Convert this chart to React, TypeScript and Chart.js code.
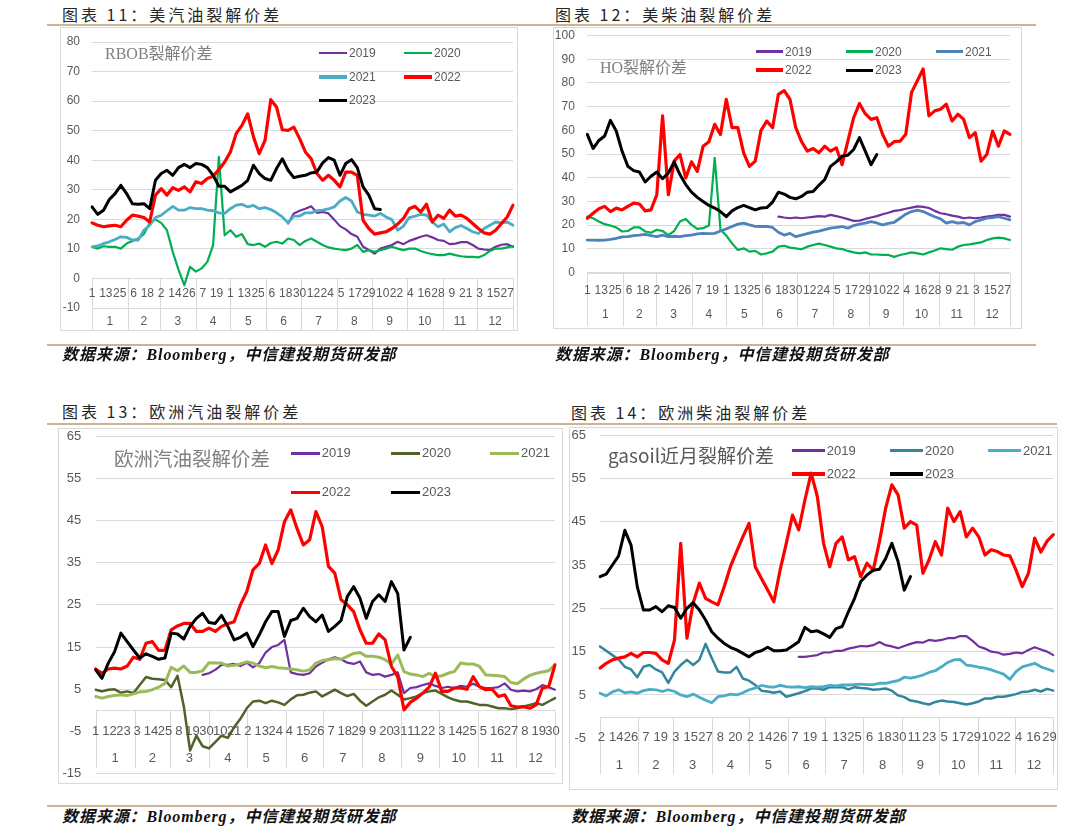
import React, { useEffect, useRef } from "react";
import { Chart, registerables } from "chart.js";

Chart.register(...registerables);

// ---- calendar / category helpers -------------------------------------------
const MONTH_LABELS = ["1", "2", "3", "4", "5", "6", "7", "8", "9", "10", "11", "12"];
const MONTH_LENGTHS = [31, 28, 31, 30, 31, 30, 31, 31, 30, 31, 30, 31];
const STEP = 5; // one sample every 5 calendar days
const GRID_DAYS = Array.from({ length: 74 }, (_, i) => i * STEP);
const YEARS = ["2019", "2020", "2021", "2022", "2023"];

const US_DAY_TICKS = ["1", "13", "25", "6", "18", "2", "14", "26", "7", "19", "1", "13", "25", "6", "18", "30", "12", "24", "5", "17", "29", "10", "22", "4", "16", "28", "9", "21", "3", "15", "27"];
const EBOB_DAY_TICKS = ["1", "12", "23", "3", "14", "25", "8", "19", "30", "10", "21", "2", "13", "24", "4", "15", "26", "7", "18", "29", "9", "20", "31", "11", "22", "3", "14", "25", "5", "16", "27", "8", "19", "30"];
const GASOIL_DAY_TICKS = ["2", "14", "26", "7", "19", "3", "15", "27", "8", "20", "2", "14", "26", "7", "19", "1", "13", "25", "6", "18", "30", "11", "23", "5", "17", "29", "10", "22", "4", "16", "29"];

// ---- 美汽油 RBOB 裂解价差 --------------------------------------------------------
const rbob2019From = 170;
const rbob2019 = [18.6, 22.0, 22.9, 23.6, 24.4, 22.2, 22.5, 22.0, 19.9, 17.7, 16.6, 15.0, 14.1, 10.7, 9.6, 8.4, 10.1, 10.7, 11.3, 12.4, 11.6, 12.7, 13.4, 14.1, 14.6, 13.9, 13.0, 12.7, 11.6, 11.8, 12.3, 12.3, 11.3, 10.1, 9.8, 9.6, 10.7, 11.4, 11.6, 10.7];
const rbob2020 = [10.7, 10.1, 10.9, 10.7, 10.7, 10.1, 11.8, 12.7, 13.5, 15.0, 18.8, 19.9, 18.8, 16.3, 9.0, 3.0, -2.3, 3.9, 2.3, 3.4, 5.6, 11.3, 41.1, 14.6, 16.3, 14.1, 15.0, 11.6, 11.3, 11.8, 10.7, 12.0, 12.4, 11.8, 13.5, 13.0, 11.3, 12.7, 13.5, 12.4, 11.3, 10.5, 10.1, 9.8, 9.6, 10.1, 11.3, 9.0, 9.6, 9.0, 9.6, 10.1, 10.7, 10.1, 9.6, 10.1, 10.1, 9.3, 8.7, 8.2, 7.9, 7.9, 8.4, 7.9, 7.5, 7.3, 7.3, 7.1, 7.9, 9.3, 10.1, 10.1, 10.5, 10.9];
const rbob2021 = [10.7, 11.0, 11.8, 12.4, 13.2, 14.1, 13.9, 13.0, 13.0, 16.3, 18.0, 20.6, 21.4, 22.9, 24.4, 23.1, 23.1, 24.0, 23.6, 23.6, 23.1, 22.9, 22.2, 22.0, 23.6, 24.8, 25.1, 24.2, 24.7, 23.6, 24.0, 23.3, 22.2, 20.8, 18.8, 21.1, 21.1, 22.2, 22.2, 22.9, 23.1, 23.5, 24.2, 26.2, 27.4, 26.2, 22.5, 21.7, 21.4, 21.1, 22.0, 20.8, 19.9, 16.3, 17.7, 20.6, 21.1, 21.7, 21.4, 19.1, 17.5, 18.4, 15.8, 17.2, 17.9, 16.9, 15.8, 15.2, 16.9, 18.0, 19.1, 18.8, 19.1, 18.0];
const rbob2022 = [18.8, 18.0, 17.5, 17.8, 18.0, 17.5, 19.7, 21.4, 21.1, 20.6, 19.1, 28.2, 30.4, 28.2, 30.7, 29.8, 31.0, 29.3, 32.7, 32.1, 33.8, 34.6, 36.8, 39.4, 42.8, 49.0, 51.8, 55.7, 47.9, 42.2, 46.7, 60.5, 58.0, 50.3, 50.1, 51.2, 47.3, 42.8, 40.5, 35.5, 33.2, 34.9, 33.2, 31.0, 36.0, 36.0, 34.9, 19.7, 16.9, 15.0, 15.4, 15.8, 16.9, 18.4, 20.3, 23.6, 24.4, 22.5, 25.1, 19.1, 21.4, 20.3, 23.1, 21.1, 21.4, 20.3, 18.6, 16.9, 15.4, 15.0, 16.3, 18.6, 20.8, 24.8];
const rbob2023 = [24.2, 21.7, 23.1, 26.7, 28.7, 31.5, 28.7, 25.3, 25.1, 25.3, 23.6, 33.2, 35.5, 36.6, 34.9, 37.5, 38.6, 37.5, 38.9, 38.6, 37.5, 34.9, 31.2, 31.2, 29.3, 30.4, 31.5, 33.2, 38.3, 35.5, 33.8, 33.2, 37.2, 40.5, 36.6, 34.1, 34.6, 34.9, 35.7, 36.0, 39.1, 40.9, 40.0, 34.9, 38.9, 40.2, 37.5, 31.0, 28.2, 23.6, 23.3];

// ---- 美柴油 HO 裂解价差 ----------------------------------------------------------
const ho2019From = 165;
const ho2019 = [23.6, 23.2, 22.9, 23.2, 22.9, 23.2, 23.5, 23.8, 23.6, 24.3, 23.8, 23.2, 22.5, 21.8, 21.9, 22.6, 23.2, 23.8, 24.6, 25.2, 26.0, 26.3, 26.9, 27.4, 27.9, 27.7, 27.2, 26.0, 25.0, 24.6, 24.0, 23.6, 22.9, 23.2, 22.9, 23.2, 23.6, 23.9, 24.3, 24.3, 23.6];
const ho2020 = [23.6, 22.9, 21.5, 20.4, 19.8, 19.0, 17.3, 17.5, 19.0, 19.0, 17.3, 16.8, 18.0, 17.5, 15.8, 17.5, 21.5, 22.6, 20.1, 18.4, 18.7, 19.8, 48.4, 18.0, 15.6, 12.3, 9.5, 10.2, 8.8, 9.1, 7.6, 8.1, 8.8, 10.9, 11.3, 10.5, 10.2, 9.8, 10.9, 11.6, 12.2, 11.6, 10.9, 10.2, 9.9, 9.1, 8.5, 8.1, 8.5, 7.6, 7.6, 7.4, 7.4, 6.6, 7.4, 7.9, 8.5, 8.1, 7.6, 8.5, 9.3, 10.2, 9.9, 9.6, 10.9, 11.6, 11.9, 12.3, 12.7, 13.7, 14.4, 14.7, 14.4, 13.7];
const ho2021 = [13.7, 13.7, 13.6, 13.7, 14.0, 14.4, 15.0, 15.1, 15.6, 15.8, 16.1, 15.6, 15.1, 15.8, 15.1, 15.3, 15.1, 15.6, 15.8, 16.3, 16.5, 16.4, 16.5, 17.5, 18.4, 19.4, 20.4, 20.8, 20.1, 19.5, 19.4, 19.5, 19.0, 17.0, 15.8, 16.5, 15.1, 15.8, 16.4, 17.0, 17.5, 18.1, 18.7, 19.0, 19.4, 18.7, 19.8, 20.4, 20.8, 21.5, 20.9, 20.1, 20.7, 21.2, 22.9, 24.6, 25.7, 26.3, 25.7, 24.6, 23.5, 22.6, 20.8, 21.5, 20.8, 21.1, 20.1, 21.5, 22.2, 22.9, 23.2, 23.6, 22.9, 22.2];
const ho2022 = [22.9, 25.0, 26.9, 27.9, 25.7, 27.2, 26.4, 27.9, 29.3, 28.9, 26.0, 26.4, 32.8, 66.1, 32.8, 47.0, 49.8, 39.9, 46.7, 42.7, 53.3, 55.2, 62.5, 58.3, 73.1, 61.1, 61.1, 50.5, 44.8, 47.0, 60.0, 63.9, 61.1, 75.2, 76.7, 73.1, 61.1, 55.2, 51.2, 52.3, 50.5, 53.3, 51.2, 52.6, 45.5, 55.4, 65.3, 71.3, 67.0, 64.6, 65.3, 58.3, 53.3, 55.2, 55.4, 58.3, 76.0, 80.9, 85.9, 66.1, 68.2, 68.9, 71.0, 63.9, 66.8, 64.6, 56.9, 59.0, 47.0, 49.8, 59.7, 53.3, 59.7, 58.3];
const ho2023 = [58.3, 52.3, 55.7, 57.6, 64.2, 59.7, 51.2, 44.8, 43.0, 42.4, 38.2, 40.6, 42.4, 39.6, 42.0, 46.7, 41.3, 37.1, 33.9, 31.7, 30.0, 28.3, 27.2, 25.7, 23.6, 26.0, 27.4, 28.3, 27.4, 26.4, 27.2, 27.4, 29.7, 33.9, 33.1, 31.7, 31.1, 32.1, 33.9, 34.2, 36.8, 39.2, 44.8, 46.7, 49.1, 49.5, 51.9, 56.9, 51.2, 45.5, 49.8];

// ---- 欧洲汽油裂解价差 ------------------------------------------------------------
const ebob2019From = 85;
const ebob2019 = [8.4, 8.8, 9.6, 10.8, 10.8, 11.0, 10.5, 11.3, 10.2, 11.2, 13.7, 15.0, 15.5, 16.7, 9.0, 8.6, 8.4, 8.8, 10.4, 11.3, 12.1, 12.6, 12.1, 11.3, 11.0, 11.6, 9.0, 8.4, 8.6, 8.0, 8.4, 9.0, 4.1, 5.3, 5.5, 6.0, 6.4, 5.8, 5.3, 5.6, 5.3, 5.8, 5.6, 6.3, 5.6, 5.3, 5.3, 5.5, 6.4, 4.9, 4.5, 4.7, 4.5, 5.0, 6.0, 5.5, 4.9];
const ebob2020 = [4.9, 4.5, 4.9, 5.0, 4.2, 4.5, 4.1, 6.0, 7.9, 7.5, 7.4, 7.2, 5.5, 8.2, 1.0, -9.5, -6.0, -8.5, -9.0, -7.5, -6.0, -6.5, -4.0, -2.0, 0.5, 2.1, 2.3, 1.7, 2.3, 1.9, 1.3, 2.6, 3.6, 3.7, 4.2, 4.5, 3.3, 4.1, 4.9, 4.1, 3.4, 3.9, 2.3, 1.1, 2.1, 3.1, 3.7, 4.7, 3.7, 2.6, 2.9, 3.3, 4.1, 4.5, 4.7, 3.9, 3.1, 2.5, 2.1, 2.1, 1.7, 1.3, 1.3, 0.9, 0.5, 0.5, 0.3, 0.5, 0.9, 1.3, 1.7, 1.3, 2.1, 2.9];
const ebob2021 = [3.3, 2.9, 3.3, 3.5, 3.7, 3.5, 3.9, 4.4, 4.5, 4.9, 5.5, 6.4, 10.2, 9.4, 10.5, 9.0, 9.0, 9.4, 11.3, 11.2, 11.2, 10.5, 10.7, 11.0, 11.5, 11.2, 10.5, 10.1, 10.4, 10.1, 10.0, 9.8, 9.6, 9.3, 9.6, 11.2, 11.8, 12.0, 12.3, 12.1, 12.8, 13.5, 13.7, 12.8, 12.8, 12.6, 12.0, 11.0, 13.1, 9.2, 8.6, 8.4, 8.0, 8.8, 7.9, 8.2, 8.8, 9.2, 11.2, 11.0, 11.0, 10.4, 8.4, 8.3, 8.2, 8.0, 6.6, 6.3, 7.4, 8.3, 8.8, 9.1, 9.4, 10.8];
const ebob2022 = [9.8, 8.8, 9.8, 10.0, 9.8, 10.5, 12.6, 12.1, 15.9, 16.3, 14.2, 14.2, 19.1, 20.0, 20.6, 20.6, 18.7, 18.7, 19.5, 18.7, 19.9, 20.5, 21.0, 25.0, 28.1, 33.3, 34.8, 39.2, 34.8, 38.0, 44.7, 47.5, 43.1, 39.2, 40.4, 47.1, 43.5, 34.1, 32.5, 26.2, 25.0, 23.4, 19.1, 15.9, 15.9, 18.1, 16.7, 10.4, 8.0, 0.1, 1.9, 2.9, 4.1, 5.5, 8.8, 4.5, 4.5, 5.3, 5.3, 5.0, 8.0, 5.6, 4.9, 5.0, 3.3, 3.7, 1.1, 0.8, 0.9, 0.5, 1.3, 5.3, 5.6, 10.8];
const ebob2023 = [9.6, 7.6, 11.2, 13.9, 18.3, 16.3, 14.3, 12.4, 13.4, 12.8, 12.1, 12.4, 18.3, 18.1, 16.9, 19.9, 21.8, 23.0, 20.8, 20.6, 22.5, 19.9, 16.7, 17.3, 18.3, 15.1, 17.9, 21.0, 23.4, 23.4, 17.5, 21.3, 21.8, 24.2, 22.2, 21.0, 22.6, 18.7, 19.9, 21.3, 27.0, 29.3, 26.6, 21.8, 25.8, 27.4, 25.8, 30.5, 27.7, 14.3, 17.3];

// ---- 欧洲柴油 gasoil 近月裂解价差 --------------------------------------------------
const gasoil2019From = 160;
const gasoil2019 = [13.8, 13.8, 14.0, 14.2, 14.8, 14.8, 15.2, 15.2, 15.7, 16.0, 16.3, 16.2, 16.5, 17.2, 16.5, 16.2, 15.8, 16.3, 16.8, 17.2, 17.1, 17.7, 17.5, 17.7, 18.1, 18.1, 18.6, 18.6, 17.5, 16.2, 15.7, 15.0, 14.8, 14.3, 14.5, 14.8, 14.6, 15.4, 16.0, 15.5, 15.0, 14.2];
const gasoil2020 = [16.2, 15.2, 14.2, 13.2, 11.5, 10.9, 9.1, 11.5, 11.9, 10.9, 10.2, 7.8, 10.4, 11.9, 13.1, 11.9, 13.1, 16.8, 13.5, 10.4, 10.2, 10.2, 11.5, 8.8, 8.3, 7.3, 6.0, 5.8, 5.5, 5.8, 4.6, 5.0, 5.4, 5.9, 6.5, 6.5, 6.2, 6.8, 6.8, 6.8, 6.3, 6.8, 6.6, 6.5, 6.2, 6.3, 6.5, 6.0, 4.9, 4.5, 3.7, 3.5, 3.1, 2.8, 3.4, 3.7, 3.5, 3.4, 3.1, 2.8, 3.1, 3.5, 4.2, 4.2, 4.6, 4.6, 4.9, 5.2, 5.7, 5.8, 6.2, 5.8, 6.4, 6.0];
const gasoil2021 = [5.4, 4.8, 5.7, 6.2, 5.5, 5.7, 5.4, 6.0, 6.3, 6.2, 5.8, 6.2, 5.8, 5.0, 4.6, 5.2, 4.5, 3.8, 3.2, 4.6, 4.8, 5.2, 5.0, 5.5, 6.2, 6.6, 7.2, 6.9, 6.8, 7.2, 6.9, 6.8, 6.9, 6.7, 6.9, 6.8, 6.9, 7.2, 7.1, 7.3, 7.3, 7.4, 7.5, 7.4, 7.4, 7.7, 7.7, 8.0, 8.3, 9.1, 8.9, 9.2, 9.6, 10.2, 10.6, 11.5, 12.5, 13.1, 13.2, 11.9, 11.7, 11.4, 11.2, 10.8, 10.3, 9.8, 8.6, 10.4, 11.5, 11.9, 12.3, 11.5, 11.0, 10.5];
const gasoil2022 = [11.2, 12.3, 13.1, 13.5, 13.8, 14.6, 13.8, 14.8, 14.8, 14.6, 13.1, 12.3, 17.7, 40.0, 18.1, 26.2, 30.8, 27.3, 26.5, 25.8, 30.0, 34.6, 38.1, 41.5, 44.6, 34.6, 31.9, 29.2, 26.5, 33.8, 40.0, 46.5, 43.1, 50.0, 56.2, 50.8, 40.0, 34.6, 40.0, 41.5, 36.2, 36.9, 32.3, 35.4, 33.8, 40.4, 48.1, 53.5, 51.2, 43.5, 45.0, 44.2, 33.1, 36.2, 40.4, 37.3, 48.1, 45.0, 47.3, 41.5, 43.5, 41.5, 37.3, 38.5, 38.1, 37.3, 37.1, 33.8, 30.0, 33.1, 41.2, 38.0, 40.5, 42.0];
const gasoil2023 = [32.3, 32.9, 35.0, 37.1, 43.0, 39.6, 30.0, 24.6, 24.6, 25.4, 24.2, 25.6, 25.2, 22.7, 25.0, 26.3, 24.6, 22.3, 19.6, 18.1, 16.9, 16.0, 15.4, 14.6, 13.8, 14.8, 15.2, 16.0, 15.2, 15.2, 15.4, 16.3, 17.3, 20.6, 19.6, 19.8, 19.1, 18.3, 20.3, 20.8, 24.2, 27.3, 31.2, 32.7, 33.8, 34.0, 36.5, 40.0, 35.8, 29.2, 32.3];

// ---- styling ---------------------------------------------------------------
const GRID_COLOR = "#D9D9D9";
const TEXT_COLOR = "#595959";
const RULE_COLOR = "#C9B691";
const AXIS_FONT = "'Liberation Sans', Arial, sans-serif";
const CJK_FONT = "'Noto Sans CJK SC', 'Noto Sans', sans-serif";
const SOURCE_TEXT = "数据来源：Bloomberg，中信建投期货研发部";

const MONTH_STARTS = MONTH_LENGTHS.reduce<number[]>((acc, n) => {
  acc.push(acc[acc.length - 1] + n);
  return acc;
}, [0]);

// day-of-year for each tick label: a smaller number than the previous one starts a new month
function tickDays(labels: string[]): number[] {
  let month = 0;
  let prev = 0;
  return labels.map((t) => {
    const n = Number(t);
    if (n < prev) month += 1;
    prev = n;
    return MONTH_STARTS[month] + n - 1;
  });
}

function onGrid(values: number[], fromDay = 0): (number | null)[] {
  const out: (number | null)[] = GRID_DAYS.map(() => null);
  const start = fromDay / STEP;
  values.forEach((v, i) => {
    out[start + i] = v;
  });
  return out;
}

type Rect = { x: number; y: number; w: number; h: number };
type PanelCfg = {
  title: string;
  titleX: number;
  titleCy: number;
  ruleX1: number;
  ruleX2: number;
  ruleY: number;
  footRuleY: number;
  footX: number;
  footCy: number;
  box: Rect;
  plot: { left: number; right: number; top: number; bottom: number };
  yMin: number;
  yMax: number;
  yStep: number;
  hiddenGrid: number[];
  tickPad: number;
  tickSize: number;
  dayLabels: string[];
  sepDown: number;
  dayDy: number;
  monthDy: number;
  inner: string;
  innerX: number;
  innerCy: number;
  innerSize: number;
  innerFont: string;
  innerColor: string;
  colors: string[];
  widths: number[];
  data: (number | null)[][];
  legendCols: number[];
  legendRows: number[];
  legendSlots: [number, number][];
  legendLen: number;
  legendWidths: number[];
  legendSize: number;
};

const monthAxisPlugin = {
  id: "monthAxis",
  beforeDatasetsDraw(chart: any, _args: any, opts: any) {
    const { ctx } = chart;
    const xs = chart.scales.x;
    const ys = chart.scales.y;
    const y0 = Math.round(ys.getPixelForValue(0)) + 0.5;
    const px = (day: number) => xs.getPixelForDecimal(day / 365);
    ctx.save();
    ctx.strokeStyle = GRID_COLOR;
    ctx.lineWidth = 1;
    ctx.beginPath();
    ctx.moveTo(xs.left, y0);
    ctx.lineTo(xs.right, y0);
    MONTH_STARTS.forEach((d) => {
      const x = Math.round(px(d)) + 0.5;
      ctx.moveTo(x, y0);
      ctx.lineTo(x, y0 + opts.sepDown);
    });
    ctx.stroke();
    ctx.fillStyle = TEXT_COLOR;
    ctx.font = `${opts.size}px ${AXIS_FONT}`;
    ctx.textAlign = "center";
    ctx.textBaseline = "middle";
    const days = tickDays(opts.dayLabels);
    days.forEach((d: number, i: number) => {
      ctx.fillText(opts.dayLabels[i], px(d), y0 + opts.dayDy);
    });
    MONTH_LABELS.forEach((m, i) => {
      ctx.fillText(m, (px(MONTH_STARTS[i]) + px(MONTH_STARTS[i + 1])) / 2, y0 + opts.monthDy);
    });
    ctx.restore();
  },
};

function PanelChart({ cfg }: { cfg: PanelCfg }) {
  const ref = useRef<HTMLCanvasElement>(null);
  useEffect(() => {
    const canvas = ref.current;
    if (!canvas) return;
    const { box, plot } = cfg;
    const chart = new Chart(canvas, {
      type: "line",
      data: {
        labels: GRID_DAYS,
        datasets: YEARS.map((year, i) => ({
          label: year,
          data: cfg.data[i],
          borderColor: cfg.colors[i],
          backgroundColor: cfg.colors[i],
          borderWidth: cfg.widths[i],
          pointRadius: 0,
          tension: 0,
          fill: false,
          spanGaps: false,
          borderJoinStyle: "round",
          borderCapStyle: "round",
          order: YEARS.length - 1 - i,
        })),
      },
      options: {
        animation: false,
        responsive: false,
        maintainAspectRatio: false,
        events: [],
        layout: {
          padding: {
            left: 0,
            top: plot.top - box.y,
            right: box.x + box.w - plot.right,
            bottom: box.y + box.h - plot.bottom,
          },
        },
        plugins: {
          legend: { display: false },
          tooltip: { enabled: false },
          monthAxis: {
            dayLabels: cfg.dayLabels,
            sepDown: cfg.sepDown,
            dayDy: cfg.dayDy,
            monthDy: cfg.monthDy,
            size: cfg.tickSize,
          },
        } as any,
        scales: {
          x: { type: "category", display: false, offset: false },
          y: {
            min: cfg.yMin,
            max: cfg.yMax,
            ticks: {
              stepSize: cfg.yStep,
              color: TEXT_COLOR,
              padding: 0,
              font: { family: AXIS_FONT, size: cfg.tickSize },
            },
            grid: {
              color: (c: any) => (cfg.hiddenGrid.includes(c.tick?.value) ? "rgba(0,0,0,0)" : GRID_COLOR),
              lineWidth: 1,
              drawTicks: true,
              tickLength: cfg.tickPad,
              tickColor: "rgba(0,0,0,0)",
            },
            border: { display: false },
            afterFit: (s: any) => {
              s.width = plot.left - box.x;
            },
          },
        },
      },
      plugins: [monthAxisPlugin],
    });
    return () => chart.destroy();
  }, [cfg]);
  const { box } = cfg;
  return (
    <canvas
      ref={ref}
      width={box.w}
      height={box.h}
      style={{ position: "absolute", left: box.x, top: box.y, width: box.w, height: box.h }}
    />
  );
}

function Panel({ cfg }: { cfg: PanelCfg }) {
  const { box } = cfg;
  return (
    <>
      <div
        style={{
          position: "absolute",
          left: cfg.titleX,
          top: cfg.titleCy - 11,
          height: 22,
          lineHeight: "22px",
          fontFamily: CJK_FONT,
          fontSize: 16,
          letterSpacing: 3,
          color: "#262626",
          whiteSpace: "nowrap",
        }}
      >
        {cfg.title}
      </div>
      <div style={{ position: "absolute", left: cfg.ruleX1, top: cfg.ruleY, width: cfg.ruleX2 - cfg.ruleX1, height: 2, background: RULE_COLOR }} />
      <PanelChart cfg={cfg} />
      <div
        style={{
          position: "absolute",
          left: box.x,
          top: box.y,
          width: box.w,
          height: box.h,
          border: `1px solid ${GRID_COLOR}`,
          boxSizing: "border-box",
          pointerEvents: "none",
        }}
      />
      <div
        style={{
          position: "absolute",
          left: cfg.innerX,
          top: cfg.innerCy - cfg.innerSize * 0.7,
          height: cfg.innerSize * 1.4,
          lineHeight: `${cfg.innerSize * 1.4}px`,
          fontFamily: cfg.innerFont,
          fontSize: cfg.innerSize,
          color: cfg.innerColor,
          whiteSpace: "nowrap",
        }}
      >
        {cfg.inner}
      </div>
      {YEARS.map((year, i) => {
        const [c, r] = cfg.legendSlots[i];
        const lx = cfg.legendCols[c];
        const cy = cfg.legendRows[r];
        const lw = cfg.legendWidths[i];
        return (
          <React.Fragment key={year}>
            <div
              style={{
                position: "absolute",
                left: lx,
                top: cy - lw / 2,
                width: cfg.legendLen,
                height: lw,
                background: cfg.colors[i],
              }}
            />
            <div
              style={{
                position: "absolute",
                left: lx + cfg.legendLen + 2,
                top: cy - 9,
                height: 18,
                lineHeight: "18px",
                fontFamily: AXIS_FONT,
                fontSize: cfg.legendSize,
                color: TEXT_COLOR,
                whiteSpace: "nowrap",
              }}
            >
              {year}
            </div>
          </React.Fragment>
        );
      })}
      <div style={{ position: "absolute", left: cfg.ruleX1, top: cfg.footRuleY, width: cfg.ruleX2 - cfg.ruleX1, height: 2, background: RULE_COLOR }} />
      <div
        style={{
          position: "absolute",
          left: cfg.footX,
          top: cfg.footCy - 11,
          height: 22,
          lineHeight: "22px",
          fontFamily: "'Liberation Serif', 'Noto Sans CJK SC', serif",
          fontWeight: "bold",
          fontStyle: "italic",
          fontSize: 16,
          letterSpacing: 0.9,
          color: "#111",
          whiteSpace: "nowrap",
        }}
      >
        {SOURCE_TEXT}
      </div>
    </>
  );
}

const PANELS: PanelCfg[] = [
  {
    title: "图表 11：美汽油裂解价差",
    titleX: 62,
    titleCy: 13.5,
    ruleX1: 47,
    ruleX2: 540,
    ruleY: 24,
    footRuleY: 344,
    footX: 62,
    footCy: 355,
    box: { x: 60, y: 27, w: 458, h: 304 },
    plot: { left: 92, right: 513, top: 42, bottom: 308 },
    yMin: -10,
    yMax: 80,
    yStep: 10,
    hiddenGrid: [],
    tickPad: 12,
    tickSize: 12,
    dayLabels: US_DAY_TICKS,
    sepDown: 52,
    dayDy: 15,
    monthDy: 43,
    inner: "RBOB裂解价差",
    innerX: 105,
    innerCy: 54,
    innerSize: 16,
    innerFont: "'Liberation Serif', 'Noto Sans CJK SC', serif",
    innerColor: "#7F7F7F",
    colors: ["#7030A0", "#00B050", "#4BACC6", "#FF0000", "#000000"],
    widths: [2.2, 2.2, 2.8, 3.2, 3],
    data: [onGrid(rbob2019, rbob2019From), onGrid(rbob2020), onGrid(rbob2021), onGrid(rbob2022), onGrid(rbob2023)],
    legendCols: [319, 404],
    legendRows: [53, 77, 100],
    legendSlots: [[0, 0], [1, 0], [0, 1], [1, 1], [0, 2]],
    legendLen: 28,
    legendWidths: [2.5, 2.5, 3.5, 3.5, 3],
    legendSize: 12,
  },
  {
    title: "图表 12：美柴油裂解价差",
    titleX: 555,
    titleCy: 13.5,
    ruleX1: 540,
    ruleX2: 1036,
    ruleY: 24,
    footRuleY: 344,
    footX: 555,
    footCy: 355,
    box: { x: 553, y: 27, w: 469, h: 302 },
    plot: { left: 587.3, right: 1010, top: 35.5, bottom: 272.5 },
    yMin: 0,
    yMax: 100,
    yStep: 10,
    hiddenGrid: [],
    tickPad: 12.5,
    tickSize: 12,
    dayLabels: US_DAY_TICKS,
    sepDown: 52.5,
    dayDy: 17.5,
    monthDy: 41.5,
    inner: "HO裂解价差",
    innerX: 600,
    innerCy: 68,
    innerSize: 16,
    innerFont: "'Liberation Serif', 'Noto Sans CJK SC', serif",
    innerColor: "#7F7F7F",
    colors: ["#7030A0", "#00B050", "#4F81BD", "#FF0000", "#000000"],
    widths: [2.2, 2.2, 2.8, 3.2, 3],
    data: [onGrid(ho2019, ho2019From), onGrid(ho2020), onGrid(ho2021), onGrid(ho2022), onGrid(ho2023)],
    legendCols: [756, 846, 936],
    legendRows: [51.7, 70],
    legendSlots: [[0, 0], [1, 0], [2, 0], [0, 1], [1, 1]],
    legendLen: 27,
    legendWidths: [2.5, 2.5, 3.5, 3.5, 3],
    legendSize: 12,
  },
  {
    title: "图表 13：欧洲汽油裂解价差",
    titleX: 62,
    titleCy: 411,
    ruleX1: 47,
    ruleX2: 560,
    ruleY: 423,
    footRuleY: 805,
    footX: 62,
    footCy: 817,
    box: { x: 58, y: 428, w: 505, h: 356 },
    plot: { left: 95.7, right: 555, top: 436, bottom: 773.7 },
    yMin: -15,
    yMax: 65,
    yStep: 10,
    hiddenGrid: [-5],
    tickPad: 14.5,
    tickSize: 13,
    dayLabels: EBOB_DAY_TICKS,
    sepDown: 57,
    dayDy: 21,
    monthDy: 48,
    inner: "欧洲汽油裂解价差",
    innerX: 114,
    innerCy: 458,
    innerSize: 19.5,
    innerFont: CJK_FONT,
    innerColor: "#808080",
    colors: ["#7030A0", "#4F6228", "#9BBB59", "#FF0000", "#000000"],
    widths: [2.2, 2.5, 3, 3.2, 3],
    data: [onGrid(ebob2019, ebob2019From), onGrid(ebob2020), onGrid(ebob2021), onGrid(ebob2022), onGrid(ebob2023)],
    legendCols: [290.7, 391, 490],
    legendRows: [453.3, 492.3],
    legendSlots: [[0, 0], [1, 0], [2, 0], [0, 1], [1, 1]],
    legendLen: 29,
    legendWidths: [3, 3, 3.5, 3.5, 3.5],
    legendSize: 13,
  },
  {
    title: "图表 14：欧洲柴油裂解价差",
    titleX: 571,
    titleCy: 411.5,
    ruleX1: 560,
    ruleX2: 1057,
    ruleY: 423,
    footRuleY: 805,
    footX: 571,
    footCy: 817,
    box: { x: 569, y: 427, w: 489, h: 363 },
    plot: { left: 600, right: 1053.3, top: 435, bottom: 738.3 },
    yMin: -5,
    yMax: 65,
    yStep: 10,
    hiddenGrid: [-5],
    tickPad: 14,
    tickSize: 13,
    dayLabels: GASOIL_DAY_TICKS,
    sepDown: 57,
    dayDy: 20,
    monthDy: 48,
    inner: "gasoil近月裂解价差",
    innerX: 608,
    innerCy: 455,
    innerSize: 19,
    innerFont: CJK_FONT,
    innerColor: "#595959",
    colors: ["#7030A0", "#31859C", "#4BACC6", "#FF0000", "#000000"],
    widths: [2.2, 2.5, 2.8, 3.2, 3],
    data: [onGrid(gasoil2019, gasoil2019From), onGrid(gasoil2020), onGrid(gasoil2021), onGrid(gasoil2022), onGrid(gasoil2023)],
    legendCols: [791.7, 890, 988],
    legendRows: [450.7, 474],
    legendSlots: [[0, 0], [1, 0], [2, 0], [0, 1], [1, 1]],
    legendLen: 33,
    legendWidths: [2.5, 3, 3.5, 4, 3.5],
    legendSize: 13,
  },
];

export default function App() {
  return (
    <div
      style={{
        position: "absolute",
        left: 0,
        top: 0,
        width: 1080,
        height: 839,
        background: "#FFFFFF",
        overflow: "hidden",
      }}
    >
      {PANELS.map((cfg) => (
        <Panel key={cfg.title} cfg={cfg} />
      ))}
    </div>
  );
}
